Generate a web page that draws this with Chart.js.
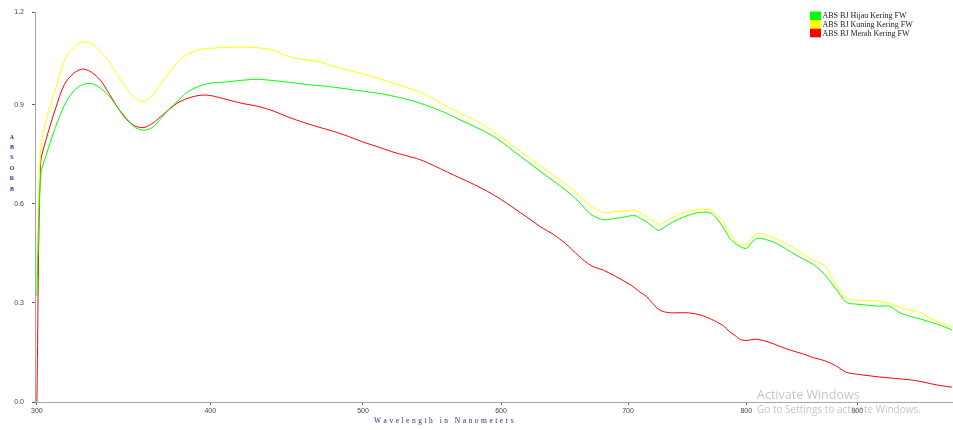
<!DOCTYPE html>
<html>
<head>
<meta charset="utf-8">
<script src="https://cdn.jsdelivr.net/npm/chart.js@4.4.1/dist/chart.umd.min.js"></script>
<style>
  html, body { margin: 0; padding: 0; background: #fff; }
  #wrap { position: relative; width: 953px; height: 430px; }
</style>
</head>
<body>
<div id="wrap"><canvas id="spec"></canvas></div>
<script>
// wavelength grid (nm)
const wavelengths = [300, 302, 305, 310, 315, 320, 325, 330, 335, 340, 345, 350, 355, 360, 365, 370, 375, 380, 385, 390, 395,
  400, 410, 420, 430, 440, 450, 460, 470, 480, 490, 500, 510, 520, 530, 540, 550, 560, 570, 580, 590,
  600, 610, 620, 630, 640, 650, 660, 670, 680, 690, 700, 705, 710, 715, 720, 725, 730, 735, 740, 750,
  760, 770, 780, 785, 790, 795, 800, 805, 810, 820, 830, 840, 850, 860, 870, 880, 890, 900, 910, 920,
  930, 940, 950, 960, 970, 980, 990];

const hijau = [0.32, 0.687, 0.747, 0.831, 0.899, 0.941, 0.961, 0.964, 0.950, 0.926, 0.890, 0.858, 0.831, 0.823, 0.831, 0.858, 0.887, 0.910, 0.935, 0.949, 0.959,
  0.965, 0.969, 0.974, 0.977, 0.973, 0.968, 0.962, 0.958, 0.953, 0.947, 0.941, 0.935, 0.927, 0.917, 0.905, 0.890, 0.873, 0.853, 0.834, 0.814,
  0.789, 0.758, 0.728, 0.699, 0.670, 0.641, 0.607, 0.568, 0.552, 0.556, 0.562, 0.565, 0.556, 0.546, 0.532, 0.520, 0.529, 0.541, 0.550, 0.565,
  0.574, 0.571, 0.529, 0.499, 0.481, 0.470, 0.465, 0.484, 0.496, 0.489, 0.474, 0.453, 0.434, 0.416, 0.386, 0.344, 0.302, 0.296, 0.293, 0.290,
  0.290, 0.270, 0.259, 0.251, 0.241, 0.231, 0.218];

const kuning = [0.35, 0.762, 0.853, 0.947, 1.034, 1.073, 1.090, 1.084, 1.061, 1.030, 0.987, 0.950, 0.920, 0.910, 0.927, 0.962, 0.999, 1.027, 1.050, 1.061, 1.069,
  1.071, 1.073, 1.074, 1.072, 1.065, 1.046, 1.037, 1.030, 1.016, 1.004, 0.993, 0.980, 0.967, 0.953, 0.938, 0.917, 0.894, 0.873, 0.853, 0.831,
  0.801, 0.773, 0.743, 0.716, 0.687, 0.661, 0.628, 0.592, 0.574, 0.576, 0.579, 0.581, 0.573, 0.561, 0.550, 0.538, 0.543, 0.555, 0.564, 0.577,
  0.583, 0.580, 0.544, 0.514, 0.490, 0.476, 0.477, 0.496, 0.511, 0.502, 0.489, 0.470, 0.450, 0.428, 0.413, 0.356, 0.314, 0.308, 0.307, 0.305,
  0.299, 0.287, 0.278, 0.270, 0.252, 0.238, 0.226];

const merah = [0.0, 0.723, 0.795, 0.887, 0.962, 0.995, 1.008, 0.998, 0.974, 0.933, 0.890, 0.855, 0.835, 0.831, 0.843, 0.864, 0.886, 0.905, 0.917, 0.925, 0.929,
  0.928, 0.916, 0.904, 0.895, 0.881, 0.862, 0.846, 0.832, 0.819, 0.804, 0.787, 0.773, 0.758, 0.746, 0.734, 0.716, 0.696, 0.677, 0.658, 0.637,
  0.613, 0.586, 0.559, 0.531, 0.508, 0.479, 0.443, 0.413, 0.399, 0.380, 0.359, 0.347, 0.332, 0.320, 0.300, 0.281, 0.273, 0.270, 0.270, 0.270,
  0.264, 0.250, 0.231, 0.214, 0.202, 0.189, 0.186, 0.189, 0.190, 0.181, 0.168, 0.156, 0.146, 0.134, 0.125, 0.110, 0.090, 0.084, 0.080, 0.076,
  0.073, 0.070, 0.067, 0.062, 0.055, 0.049, 0.045];

const seriesLabels = ["ABS BJ Hijau Kering FW", "ABS BJ Kuning Kering FW", "ABS BJ Merah Kering FW"];
const xTicks = [300, 400, 500, 600, 700, 800, 900];
const yTicks = [0, 0.3, 0.6, 0.9, 1.18];
const yTitle = ["A", "B", "S", "O", "R", "B"];
const xTitle = "Wavelength in Nanometers";

// x axis of the instrument is spaced by sqrt(wavelength)
const toPts = vals => wavelengths.map((w, i) => ({ x: Math.sqrt(w), y: vals[i] }));

const tickFont = { family: "'Liberation Sans', Arial, sans-serif", size: 7 };

const extrasPlugin = {
  id: "extras",
  afterDraw(chart) {
    const { ctx } = chart;
    ctx.save();

    // legend top right
    chart.data.datasets.forEach((ds, i) => {
      ctx.fillStyle = ds.borderColor;
      ctx.fillRect(810, 11.5 + i * 8.6, 11, 8.6);
      ctx.fillStyle = "#222";
      ctx.font = "8px 'Liberation Serif', serif";
      ctx.textBaseline = "middle";
      ctx.textAlign = "left";
      ctx.fillText(ds.label, 822.5, 16 + i * 8.8);
    });

    // stacked y title
    ctx.fillStyle = "#2b2b8c";
    ctx.font = "bold 6px 'Liberation Serif', serif";
    ctx.textAlign = "center";
    yTitle.forEach((ch, i) => ctx.fillText(ch, 12, 137 + i * 10.4));

    // spaced x title
    ctx.font = "7.5px 'Liberation Serif', serif";
    ctx.textAlign = "left";
    const natural = ctx.measureText(xTitle).width;
    const gap = (139 - natural) / (xTitle.length - 1);
    let x = 374;
    for (const ch of xTitle) {
      ctx.fillText(ch, x, 421.5);
      x += ctx.measureText(ch).width + gap;
    }

    // windows watermark
    ctx.fillStyle = "rgba(150,150,150,0.55)";
    ctx.font = "12.5px 'Open Sans', sans-serif";
    ctx.fillText("Activate Windows", 757, 395);
    ctx.font = "10px 'Open Sans', sans-serif";
    ctx.fillText("Go to Settings to activate Windows.", 757, 410);

    ctx.restore();
  }
};

new Chart(document.getElementById("spec"), {
  type: "line",
  data: {
    datasets: [
      { label: seriesLabels[0], data: toPts(hijau), borderColor: "#00ff00" },
      { label: seriesLabels[1], data: toPts(kuning), borderColor: "#ffff00" },
      { label: seriesLabels[2], data: toPts(merah), borderColor: "#ff0000" }
    ].map(d => ({ ...d, borderWidth: 1, pointRadius: 0, tension: 0.3, fill: false }))
  },
  options: {
    responsive: true,
    maintainAspectRatio: false,
    animation: false,
    layout: { padding: { top: 7, right: 1, left: 0, bottom: 0 } },
    plugins: {
      legend: { display: false },
      tooltip: { enabled: false }
    },
    scales: {
      x: {
        type: "linear",
        min: Math.sqrt(299),
        max: Math.sqrt(990),
        afterBuildTicks: s => { s.ticks = xTicks.map(w => ({ value: Math.sqrt(w) })); },
        afterFit: s => { s.height = 28; },
        border: { color: "#a6a6a6", width: 1 },
        grid: { drawOnChartArea: false, drawTicks: true, tickLength: 3, color: "#606060" },
        ticks: {
          font: tickFont,
          color: "#444",
          padding: 2,
          maxRotation: 0,
          callback: v => Math.round(v * v)
        }
      },
      y: {
        min: 0,
        max: 1.18,
        afterBuildTicks: s => { s.ticks = yTicks.map(v => ({ value: v })); },
        afterFit: s => { s.width = 35; },
        border: { color: "#a6a6a6", width: 1 },
        grid: { drawOnChartArea: false, drawTicks: true, tickLength: 3, color: "#606060" },
        ticks: {
          font: tickFont,
          color: "#444",
          padding: 8,
          callback: v => (v > 1.1 ? "1.2" : v.toFixed(1))
        }
      }
    }
  },
  plugins: [extrasPlugin]
});
</script>
</body>
</html>
